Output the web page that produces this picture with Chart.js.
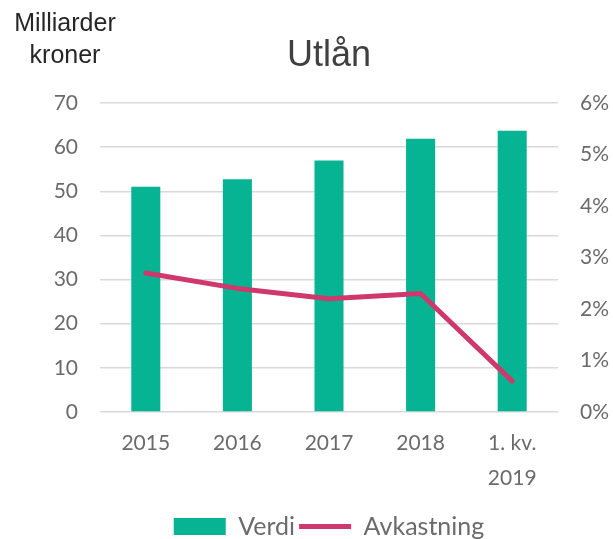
<!DOCTYPE html>
<html>
<head>
<meta charset="utf-8">
<script src="https://cdn.jsdelivr.net/npm/chart.js@4"></script>
<style>
  html, body { margin: 0; padding: 0; background: #fff; }
  #wrap { width: 613px; height: 539px; }
</style>
</head>
<body>
<div id="wrap"><canvas id="chart" width="613" height="539"></canvas></div>
<script>
const kategorier = ["2015", "2016", "2017", "2018", ["1. kv.", "2019"]];
const verdi = [51, 52.7, 57, 61.9, 63.7];
const avkastning = [2.7, 2.4, 2.2, 2.3, 0.6];
const tittel = "Utlån";
const aksetittel = ["Milliarder", "kroner"];

const gra = "#6b6b6b";
const tickFont = { family: "Lato", size: 21, lineHeight: 1.65 };

// tekst over diagrammet
const tekstPlugin = {
  id: "tekst",
  afterDraw(chart) {
    const ctx = chart.ctx;
    ctx.save();
    ctx.fillStyle = "#404040";
    ctx.textAlign = "center";
    ctx.textBaseline = "alphabetic";
    ctx.font = "36px 'Liberation Sans'";
    ctx.fillText(tittel, (chart.chartArea.left + chart.chartArea.right) / 2, 66);
    ctx.font = "25px 'Liberation Sans'";
    ctx.fillStyle = "#262626";
    ctx.fillText(aksetittel[0], 65, 31);
    ctx.fillText(aksetittel[1], 65, 63);
    ctx.restore();
  },
};

const data = {
  labels: kategorier,
  datasets: [
    {
      type: "bar",
      label: "Verdi",
      data: verdi,
      backgroundColor: "#06B493",
      borderWidth: 0,
      yAxisID: "y",
      order: 1,
      pointStyle: "rect",
      categoryPercentage: 1,
      barPercentage: 0.317,
    },
    {
      type: "line",
      label: "Avkastning",
      data: avkastning,
      borderColor: "#CF386C",
      backgroundColor: "#CF386C",
      borderWidth: 5,
      borderCapStyle: "round",
      borderJoinStyle: "round",
      pointRadius: 0,
      pointHoverRadius: 0,
      tension: 0,
      yAxisID: "y1",
      order: 0,
      pointStyle: "line",
    },
  ],
};

const config = {
  data: data,
  plugins: [tekstPlugin],
  options: {
    responsive: false,
    animation: false,
    layout: { padding: { top: 103, right: 0, left: 0, bottom: -10 } },
    plugins: {
      title: { display: false },
      tooltip: { enabled: false },
      legend: {
        position: "bottom",
        fullSize: false,
        labels: {
          usePointStyle: true,
          pointStyleWidth: 52,
          boxHeight: 17,
          padding: 4,
          color: gra,
          font: { family: "Lato", size: 25 },
          sort: (a, b) => a.datasetIndex - b.datasetIndex,
        },
      },
    },
    scales: {
      x: {
        grid: { display: false },
        border: { display: false },
        ticks: { color: gra, font: tickFont, padding: 6, maxRotation: 0, autoSkip: false },
        afterFit(scale) { scale.height = 98; },
      },
      y: {
        position: "left",
        min: 0,
        max: 70,
        ticks: { stepSize: 10, color: gra, font: tickFont, padding: 22 },
        grid: { color: "#D9D9D9", lineWidth: 1.5, drawTicks: false },
        border: { display: false },
        afterFit(scale) { scale.width = 100; },
      },
      y1: {
        position: "right",
        min: 0,
        max: 6,
        ticks: {
          stepSize: 1,
          color: gra,
          font: tickFont,
          padding: 22,
          callback: (v) => v + "%",
        },
        grid: { display: false, drawTicks: false },
        border: { display: false },
        afterFit(scale) { scale.width = 55; },
      },
    },
  },
};

new Chart(document.getElementById("chart").getContext("2d"), config);
</script>
</body>
</html>
